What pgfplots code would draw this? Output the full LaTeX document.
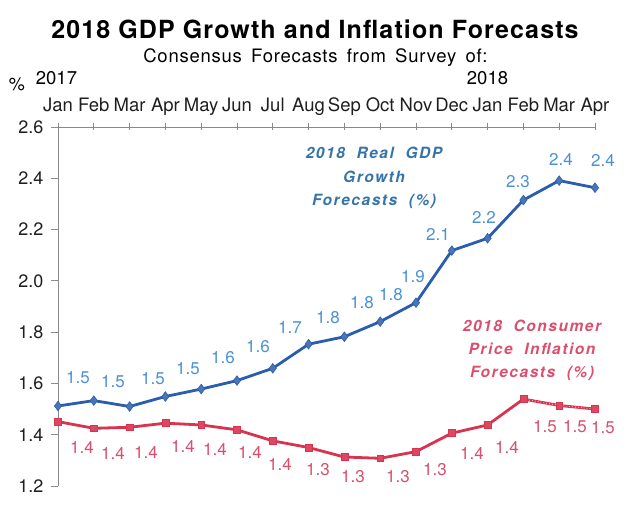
\documentclass[border=0pt]{standalone}
\usepackage{pgfplots}
\pgfplotsset{compat=1.18}
\usepackage{fontspec}
\setmainfont{TeX Gyre Heros}
\definecolor{gdpline}{HTML}{2A5DAC}
\definecolor{gdplab}{HTML}{4B92D4}
\definecolor{gdpann}{HTML}{3574A8}
\definecolor{cpiline}{HTML}{D8334F}
\definecolor{cpilab}{HTML}{DA4F6E}
\definecolor{axgray}{HTML}{8A8A8A}
\newcommand\ws{\hspace{0.75em}}
\begin{document}
\begin{tikzpicture}[x=1pt,y=1pt]
\useasboundingbox (-58,-22) rectangle (571,486);
\begin{axis}[
  at={(0,0)}, anchor=south west,
  scale only axis, width=537pt, height=359pt,
  xmin=0, xmax=15, ymin=1.2, ymax=2.6,
  axis x line*=top, axis y line*=left,
  axis line style={draw=axgray, line width=0.8pt, -},
  xtick={0,...,15},
  xticklabels={Jan,Feb,Mar,Apr,May,Jun,Jul,Aug,Sep,Oct,Nov,Dec,Jan,Feb,Mar,Apr},
  xtick align=center,
  ytick={1.2,1.4,...,2.6},
  ytick align=outside,
  major tick length=7pt,
  x tick style={draw=axgray, line width=0.8pt},
  y tick style={draw=axgray, line width=0.8pt},
  x tick label style={font=\fontsize{18.5}{20}\selectfont, text=black!88, anchor=base, yshift=12pt},
  y tick label style={font=\fontsize{18}{20}\selectfont, text=black!88, xshift=-4pt},
  yticklabel style={/pgf/number format/fixed, /pgf/number format/fixed zerofill, /pgf/number format/precision=1, /pgf/number format/assume math mode=true},
  clip=false,
]
\addplot[color=gdpline, line width=2.8pt, mark=diamond*, mark size=4.8pt, mark options={fill=gdpline!85, draw=gdpline, line width=0.6pt}] coordinates {
(0,1.512) (1,1.533) (2,1.510) (3,1.549) (4,1.578) (5,1.611) (6,1.659) (7,1.753)
(8,1.782) (9,1.841) (10,1.915) (11,2.118) (12,2.166) (13,2.315) (14,2.391) (15,2.363)};
\addplot[color=cpiline, line width=2.8pt, mark=square*, mark size=3.4pt, mark options={fill=cpiline!90, draw=cpiline, line width=0.6pt}] coordinates {
(0,1.451) (1,1.425) (2,1.429) (3,1.445) (4,1.438) (5,1.419) (6,1.376) (7,1.350)
(8,1.313) (9,1.308) (10,1.334) (11,1.406) (12,1.438) (13,1.539) (14,1.514) (15,1.500)};
\addplot[color=white!65!cpiline, line width=0.9pt, dotted, forget plot] coordinates {
(13,1.539) (14,1.514) (15,1.500)};
\end{axis}
% title
\node[anchor=base, inner sep=0pt, font=\fontsize{25}{28}\selectfont\bfseries\addfontfeatures{LetterSpace=4.5}] at (257,447) {2018 GDP Growth and Inflation Forecasts};
\node[anchor=base, inner sep=0pt, font=\fontsize{18.5}{21}\selectfont\addfontfeatures{LetterSpace=4}] at (257.5,423) {Consensus\hspace{0.5em}Forecasts\hspace{0.5em}from\hspace{0.5em}Survey\hspace{0.5em}of:};
\node[anchor=base, inner sep=0pt, font=\fontsize{18}{20}\selectfont] at (-41,395) {\%};
\node[anchor=base, inner sep=0pt, font=\fontsize{18.5}{20}\selectfont] at (-1.5,401) {2017};
\node[anchor=base, inner sep=0pt, font=\fontsize{18.5}{20}\selectfont] at (429.5,401) {2018};
% GDP labels
\begin{scope}[every node/.style={font=\fontsize{17}{19}\selectfont, text=gdplab, inner sep=0pt}]
\node at (20,108) {1.5};
\node at (55,104) {1.5};
\node at (95,107) {1.5};
\node at (130,117) {1.5};
\node at (165,128) {1.6};
\node at (200,139) {1.6};
\node at (232,159) {1.7};
\node at (270,168) {1.8};
\node at (304,183) {1.8};
\node at (333,191) {1.8};
\node at (355,209) {1.9};
\node at (380,252) {2.1};
\node at (426,269) {2.2};
\node at (460,304) {2.3};
\node at (503,327) {2.4};
\node at (545,326) {2.4};
\end{scope}
\begin{scope}[every node/.style={font=\fontsize{17}{19}\selectfont, text=cpilab, inner sep=0pt}]
\node at (24,39) {1.4};
\node at (55,33) {1.4};
\node at (88,34) {1.4};
\node at (125,40) {1.4};
\node at (157,37) {1.4};
\node at (192,34) {1.4};
\node at (222,22) {1.4};
\node at (260,16) {1.3};
\node at (295,9) {1.3};
\node at (340,9) {1.3};
\node at (377,16) {1.3};
\node at (414,33) {1.4};
\node at (449,39) {1.4};
\node at (487,59) {1.5};
\node at (517,59) {1.5};
\node at (545,58) {1.5};
\end{scope}
\node[font=\fontsize{15.5}{23.5}\selectfont\bfseries\itshape\addfontfeatures{LetterSpace=10}, text=gdpann, align=center, inner sep=0pt] at (316,308) {2018\ws Real\ws GDP\\Growth\\Forecasts\ws(\%)};
\node[font=\fontsize{15.5}{23}\selectfont\bfseries\itshape\addfontfeatures{LetterSpace=10}, text=cpilab, align=center, inner sep=0pt] at (474,136) {2018\ws Consumer\\Price\ws Inflation\\Forecasts\ws(\%)};
\end{tikzpicture}
\end{document}
